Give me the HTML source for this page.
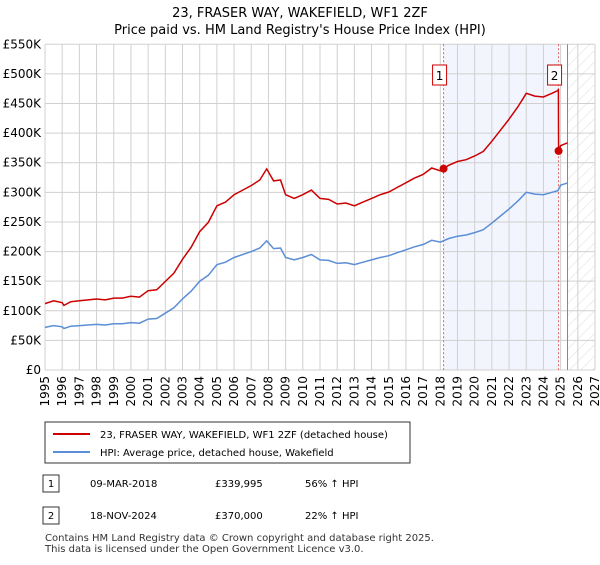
<!DOCTYPE html>
<html><head><meta charset="utf-8"><style>
body{margin:0;background:#fff;font-family:"Liberation Sans","DejaVu Sans",sans-serif;}
svg text{font-family:"DejaVu Sans","Liberation Sans",sans-serif;}
</style></head><body>
<svg width="600" height="560" viewBox="0 0 600 560">
<defs><pattern id="hatch" width="8" height="8" patternUnits="userSpaceOnUse" patternTransform="rotate(45)"><line x1="0" y1="0" x2="0" y2="8" stroke="#ddd" stroke-width="1"/></pattern></defs>
<text x="300" y="17" text-anchor="middle" font-size="13">23, FRASER WAY, WAKEFIELD, WF1 2ZF</text>
<text x="300" y="34" text-anchor="middle" font-size="13">Price paid vs. HM Land Registry's House Price Index (HPI)</text>
<g id="plot"></g>
<g>
<rect x="45" y="422" width="365" height="41" fill="#fff" stroke="#333"/>
<line x1="53" y1="434" x2="90" y2="434" stroke="#cc0000" stroke-width="2"/>
<text x="100" y="438" font-size="10">23, FRASER WAY, WAKEFIELD, WF1 2ZF (detached house)</text>
<line x1="53" y1="452" x2="90" y2="452" stroke="#5b8ed6" stroke-width="2"/>
<text x="100" y="456" font-size="10">HPI: Average price, detached house, Wakefield</text>
</g>
<g font-size="10">
<rect x="43" y="475" width="16" height="17" fill="#fff" stroke="#333"/><text x="51" y="487" text-anchor="middle">1</text>
<text x="90" y="487">09-MAR-2018</text><text x="215" y="487">£339,995</text><text x="305" y="487">56% ↑ HPI</text>
<rect x="43" y="507" width="16" height="17" fill="#fff" stroke="#333"/><text x="51" y="519" text-anchor="middle">2</text>
<text x="90" y="519">18-NOV-2024</text><text x="215" y="519">£370,000</text><text x="305" y="519">22% ↑ HPI</text>
</g>
<text x="45" y="541" font-size="10" fill="#333">Contains HM Land Registry data © Crown copyright and database right 2025.</text>
<text x="45" y="552" font-size="10" fill="#333">This data is licensed under the Open Government Licence v3.0.</text>
</svg>
<script>
const hpiYears=[1995,1995.5,1996,1996.1,1996.5,1997,1997.5,1998,1998.5,1999,1999.5,2000,2000.5,2001,2001.5,2002,2002.5,2003,2003.5,2004,2004.5,2005,2005.5,2006,2006.5,2007,2007.5,2007.9,2008.3,2008.7,2009,2009.5,2010,2010.5,2011,2011.5,2012,2012.5,2013,2013.5,2014,2014.5,2015,2015.5,2016,2016.5,2017,2017.5,2018,2018.5,2019,2019.5,2020,2020.5,2021,2021.5,2022,2022.5,2023,2023.5,2024,2024.5,2024.85,2025,2025.4];
const hpiValues=[72,75,73,70,74,75,76,77,76,78,78,80,79,86,87,96,105,120,133,150,160,178,182,190,195,200,206,218,205,206,190,186,190,195,186,185,180,181,178,182,186,190,193,198,203,208,212,219,216,222,226,228,232,237,248,260,272,285,300,297,296,300,303,312,316];
const saleDates=[2018.19,2024.88];
const salePrices=[339995,370000];
const saleLabels=["1","2"];
const yTicks=[0,50,100,150,200,250,300,350,400,450,500,550];
const yTickLabels=["£0","£50K","£100K","£150K","£200K","£250K","£300K","£350K","£400K","£450K","£500K","£550K"];
const xTicks=[];for(let y=1995;y<=2027;y++)xTicks.push(y);
const X0=45,X1=595,Y0=370,Y1=44.3,T0=1995,T1=2027,VMAX=550;
const sx=t=>X0+(t-T0)/(T1-T0)*(X1-X0);
const sy=v=>Y0-v/VMAX*(Y0-Y1);
const NS="http://www.w3.org/2000/svg";
const g=document.getElementById('plot');
function mk(tag,attrs,parent){const e=document.createElementNS(NS,tag);for(const k in attrs)e.setAttribute(k,attrs[k]);(parent||g).appendChild(e);return e;}
function hpiAt(t){for(let i=1;i<hpiYears.length;i++){if(t<=hpiYears[i]){const f=(t-hpiYears[i-1])/(hpiYears[i]-hpiYears[i-1]);return hpiValues[i-1]+f*(hpiValues[i]-hpiValues[i-1]);}}return hpiValues[hpiValues.length-1];}
let r=mk('rect',{x:sx(saleDates[0]),y:Y1,width:sx(saleDates[1])-sx(saleDates[0]),height:Y0-Y1,fill:'#f2f5fd'});


const hatchStart=2025.4;
r=mk('rect',{x:sx(hatchStart),y:Y1,width:X1-sx(hatchStart),height:Y0-Y1,fill:'url(#hatch)'});


xTicks.forEach(t=>{const l=mk('line',{x1:sx(t),x2:sx(t),y1:Y1,y2:Y0,stroke:'#d0d0d0','stroke-width':1});


const tx=mk('text',{x:0,y:0,'font-size':12,'text-anchor':'end',transform:`translate(${sx(t)+4},${Y0+6}) rotate(-90)`});tx.textContent=t;

});
yTicks.forEach((v,i)=>{const l=mk('line',{x1:X0,x2:X1,y1:sy(v),y2:sy(v),stroke:'#d0d0d0','stroke-width':1});


const tx=mk('text',{x:X0-4,y:sy(v)+4,'font-size':12,'text-anchor':'end'});tx.textContent=yTickLabels[i];

});
let vl=mk('line',{x1:sx(hatchStart),x2:sx(hatchStart),y1:Y1,y2:Y0,stroke:'#888','stroke-width':1});


saleDates.forEach((d,i)=>{const l=mk('line',{x1:sx(d),x2:sx(d),y1:Y1,y2:Y0,stroke:'#e06060','stroke-width':1,'stroke-dasharray':'2,2'});


const b=mk('rect',{x:sx(d)-4-7,y:65,width:14,height:20,fill:'#fff',stroke:'#cc0000'});


const tx=mk('text',{x:sx(d)-4,y:80,'font-size':12,'text-anchor':'middle'});tx.textContent=saleLabels[i];

});
let p=hpiYears.map((t,i)=>(i?'L':'M')+sx(t).toFixed(1)+','+sy(hpiValues[i]).toFixed(1)).join('');
let hl=mk('path',{d:p,fill:'none',stroke:'#5b8ed6','stroke-width':1.5});


const ratio1=salePrices[0]/1000/hpiAt(saleDates[0]);
const ratio2=salePrices[1]/1000/hpiAt(saleDates[1]);
let pts=[];
hpiYears.forEach((t,i)=>{if(t<saleDates[1])pts.push([t,hpiValues[i]*ratio1]);});
pts.push([saleDates[1]-0.01,hpiAt(saleDates[1])*ratio1]);
pts.push([saleDates[1],salePrices[1]/1000]);
hpiYears.forEach((t,i)=>{if(t>saleDates[1])pts.push([t,hpiValues[i]*ratio2]);});
p=pts.map((q,i)=>(i?'L':'M')+sx(q[0]).toFixed(1)+','+sy(q[1]).toFixed(1)).join('');
let rl=mk('path',{d:p,fill:'none',stroke:'#cc0000','stroke-width':1.5});


saleDates.forEach((d,i)=>{const c=mk('circle',{cx:sx(d),cy:sy(salePrices[i]/1000),r:4,fill:'#cc0000'});

});
</script>
</body></html>
